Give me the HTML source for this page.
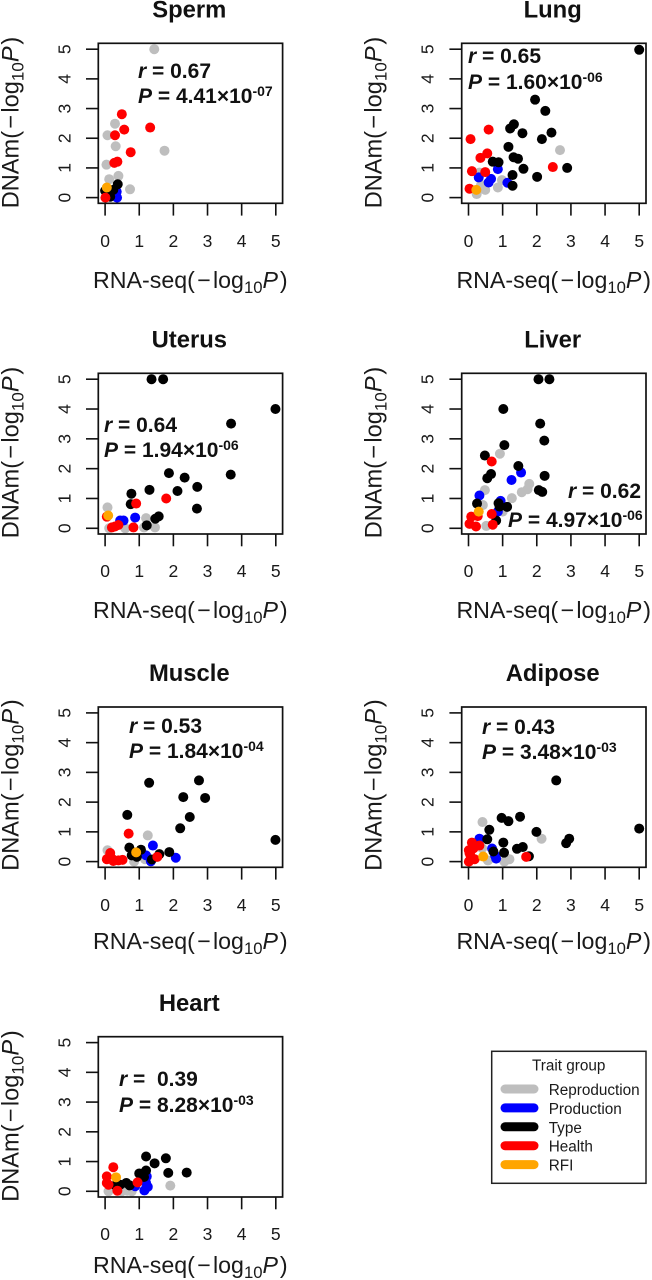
<!DOCTYPE html>
<html>
<head>
<meta charset="utf-8">
<title>DNAm vs RNA-seq scatter panels</title>
<style>
html,body{margin:0;padding:0;background:#fff;}
svg{display:block;font-family:"Liberation Sans",Arial,sans-serif;}
</style>
</head>
<body>
<svg id="figure" xmlns="http://www.w3.org/2000/svg" width="652" height="1280" viewBox="0 0 652 1280"></svg>
<script>
const tickValues = [0, 1, 2, 3, 4, 5];
const groupNames = ["Reproduction", "Production", "Type", "Health", "RFI"];
const groupColors = ["#BEBEBE", "#0000FF", "#000000", "#FF0000", "#FFA500"];

const spermX = [1.44,.29,.07,.31,1.74,.04,.12,.39,.73, .35,.34, .37,.24,0,.15, .49,.56,.29,1.32,.75,.27,.36,.01, .05];
const spermY = [5,2.49,2.1,1.73,1.58,1.11,.62,.73,.28, 0,.2, .45,.26,.23,.03, 2.81,2.29,2.1,2.36,1.53,1.17,1.21,0, .34];
const spermGroup = [0,0,0,0,0,0,0,0,0, 1,1, 2,2,2,2, 3,3,3,3,3,3,3,3, 4];

const lungX = [2.68,.32,.98,.86,.49,.24,.37, .86,.3,.66,.59,1.14, 5,1.95,2.25,1.33,1.22,1.58,2.43,2.15,1.17,1.32,1.45,.71,.88,1.61,2.89,1.29,2.01,1.29, .59,.06,.35,.55,.1,.49,2.47,.03, .23];
const lungY = [1.6,.84,.59,.34,.26,.12,.43, .96,.68,.63,.51,.5, 4.98,3.3,2.92,2.47,2.33,2.17,2.19,1.97,1.71,1.36,1.31,1.21,1.19,.97,1,.76,.7,.4, 2.29,1.97,1.34,1.49,.89,.86,1.03,.3, .26];
const lungGroup = [0,0,0,0,0,0,0, 1,1,1,1,1, 2,2,2,2,2,2,2,2,2,2,2,2,2,2,2,2,2,2, 3,3,3,3,3,3,3,3, 4];

const uterusX = [.07,1.2,1.46,1.14,.59,.12, .54,.44,.88, 1.36,1.7,4.99,3.69,3.68,1.87,2.33,2.7,2.12,1.3,.77,.75,2.69,1.57,1.47,1.22, .91,1.79,.83,.39,.2,.29,.05, .09];
const uterusY = [.7,.34,.03,.03,0,0, .26,.26,.36, 5,5,4,3.51,1.8,1.85,1.7,1.39,1.25,1.29,1.16,.81,.66,.4,.32,.1, .83,1,.03,.11,.03,.06,.39, .43];
const uterusGroup = [0,0,0,0,0,0, 1,1,1, 2,2,2,2,2,2,2,2,2,2,2,2,2,2,2,2, 3,3,3,3,3,3,3, 4];

const liverX = [.92,1.78,1.73,1.56,1.27,.48,.42,1,.52, 1.54,1.26,.32,.94,.86, 2.05,2.37,1.02,2.1,2.22,1.05,.48,1.46,.66,.55,2.23,2.06,2.16,.25,.88,1.13,.91,.81, .68,.68,.71,.27,.08,.03,.22, .3];
const liverY = [2.5,1.49,1.31,1.21,1.01,1.28,.78,.56,.08, 1.87,1.62,1.1,.92,.56, 5,5,4,3.51,2.94,2.79,2.44,2.09,1.82,1.68,1.76,1.28,1.22,.83,.84,.72,.73,.26, 2.24,.48,.12,.41,.39,.15,.06, .56];
const liverGroup = [0,0,0,0,0,0,0,0,0, 1,1,1,1,1, 2,2,2,2,2,2,2,2,2,2,2,2,2,2,2,2,2,2, 3,3,3,3,3,3,3, 4];

const muscleX = [1.25,.07,.85,1.17, 1.4,2.07,1.2,1.34, 4.99,2.75,1.29,2.29,2.93,2.48,2.2,.65,.71,1.88,1.59,1.05,.78,.93,1.37, .69,1.53,.15,.05,.24,.39,.51,.13,.08,.2, .91];
const muscleY = [.88,.38,0,.08, .54,.13,.21,.01, .73,2.73,2.65,2.17,2.14,1.5,1.12,1.57,.47,.32,.25,.4,.21,.16,.07, .94,.16,.29,.08,.02,.04,.06,.16,.1,.1, .31];
const muscleGroup = [0,0,0,0, 1,1,1,1, 2,2,2,2,2,2,2,2,2,2,2,2,2,2,2, 3,3,3,3,3,3,3,3,3,3, 4];

const adiposeX = [.41,2.14,1.2,1.05,.57,.4, .32,.69,.81,.78, 5,2.57,.97,1.17,1.51,.61,1.99,2.95,2.86,1.02,.55,1.59,1.42,1.04,.73,1.77, .1,.32,.01,1.69,.18,.01,.06,.15,.03, .43];
const adiposeY = [1.33,.77,.08,0,.04,.45, .77,.44,.1,.2, 1.11,2.73,1.47,1.36,1.51,1.07,1,.77,.62,.64,.75,.49,.43,.3,.34,.18, .64,.54,.38,.16,.08,0,.2,.45,.28, .17];
const adiposeGroup = [0,0,0,0,0,0, 1,1,1,1, 2,2,2,2,2,2,2,2,2,2,2,2,2,2,2,2, 3,3,3,3,3,3,3,3,3, 4];

const heartX = [1.91,.1,.49,.78,.65, 1.2,.88,1.15,1.22,1.25, 1.2,1.78,1.45,2.39,1.85,1.2,1,1.14,.62,.44,.72,.3, .24,.05,.05,.1,.95,.36, .32];
const heartY = [.19,0,0,0,.02, .28,.17,.03,.5,.15, 1.17,1.11,.94,.63,.62,.7,.6,.48,.28,.22,.2,.2, .81,.5,.28,.22,.3,.02, .47];
const heartGroup = [0,0,0,0,0, 1,1,1,1,1, 2,2,2,2,2,2,2,2,2,2,2,2, 3,3,3,3,3,3, 4];

const panelNames = ["Sperm", "Lung", "Uterus", "Liver", "Muscle", "Adipose", "Heart"];
const panelR = ["r = 0.67", "r = 0.65", "r = 0.64", "r = 0.62", "r = 0.53", "r = 0.43", "r =  0.39"];
const panelP = ["4.41", "1.60", "1.94", "4.97", "1.84", "3.48", "8.28"];
const panelExp = ["-07", "-06", "-06", "-06", "-04", "-03", "-03"];
const panelXs = [spermX, lungX, uterusX, liverX, muscleX, adiposeX, heartX];
const panelYs = [spermY, lungY, uterusY, liverY, muscleY, adiposeY, heartY];
const panelGroups = [spermGroup, lungGroup, uterusGroup, liverGroup, muscleGroup, adiposeGroup, heartGroup];

/* layout */
const layouts = [
  {left:98.3, top:43.3, bottom:203.3, titleY:17.5, tickLabelY:247, xTitleY:288, yMid:122.5, rX:138, rY:78, pX:138, pY:103},
  {left:461.7, top:43.3, bottom:203.3, titleY:17.5, tickLabelY:247, xTitleY:288, yMid:122.5, rX:468, rY:63, pX:468, pY:89},
  {left:98.3, top:373.3, bottom:534, titleY:347.5, tickLabelY:577, xTitleY:618, yMid:452.5, rX:104, rY:432, pX:104, pY:457},
  {left:461.7, top:373.3, bottom:534, titleY:347.5, tickLabelY:577, xTitleY:618, yMid:452.5, rX:568, rY:498, pX:508, pY:527},
  {left:98.3, top:707, bottom:867.3, titleY:681, tickLabelY:911, xTitleY:949, yMid:785, rX:129, rY:733, pX:129, pY:758},
  {left:461.7, top:707, bottom:867.3, titleY:681, tickLabelY:911, xTitleY:949, yMid:785, rX:482, rY:734, pX:482, pY:759},
  {left:98.3, top:1036.7, bottom:1197, titleY:1011, tickLabelY:1240, xTitleY:1273, yMid:1116, rX:119, rY:1086, pX:119, pY:1112}
];
const NS = "http://www.w3.org/2000/svg";
const fig = document.getElementById("figure");
const BOX_W = 184.3, AXIS_MAX = 5;

function el(tag, attrs, parent, text) {
  const e = document.createElementNS(NS, tag);
  for (const k in attrs) e.setAttribute(k, attrs[k]);
  if (text !== undefined) e.textContent = text;
  (parent || fig).appendChild(e);
  return e;
}
function xScale(L, v) { return L.left + 6.8 + (v / AXIS_MAX) * 170.7; }
function yScale(L, v) { return L.bottom - 5.7 - (v / AXIS_MAX) * (L.bottom - L.top - 11.6); }

function axisTitleParts(parent, prefix, size, gap) {
  el("tspan", {}, parent, prefix);
  el("tspan", {dx: gap}, parent, "\u2212");
  el("tspan", {dx: gap}, parent, "log");
  el("tspan", {dy: 5, "font-size": size * 0.72}, parent, "10");
  el("tspan", {dy: -5, "font-style": "italic"}, parent, "P");
  el("tspan", {dx: gap * 0.8}, parent, ")");
}

panelNames.forEach(function (name, i) {
  const L = layouts[i];
  const key = name.toLowerCase();
  const g = el("g", {}, fig);
  
  

  const title = el("text", {x: L.left + 91, y: L.titleY, "text-anchor": "middle", "font-size": 23.8, "font-weight": "bold", fill: "#111"}, g, name);
  
  

  const points = el("g", {}, g);
  
  
  const xs = panelXs[i], ys = panelYs[i], gs = panelGroups[i];
  groupNames.forEach(function (groupName, gi) {
    xs.forEach(function (v, j) {
      if (gs[j] !== gi) return;
      const c = el("circle", {cx: xScale(L, v), cy: yScale(L, ys[j]), r: 5, fill: groupColors[gi]}, points);
      
      
    });
  });

  const box = el("rect", {x: L.left, y: L.top, width: BOX_W, height: L.bottom - L.top, fill: "none", stroke: "#111", "stroke-width": 1.7}, g);
  
  

  tickValues.forEach(function (t) {
    const tx = xScale(L, t), ty = yScale(L, t);
    const xt = el("line", {x1: tx, x2: tx, y1: L.bottom, y2: L.bottom + 12.3, stroke: "#111", "stroke-width": 1.6}, g);
    
    
    const yt = el("line", {x1: L.left - 12.3, x2: L.left, y1: ty, y2: ty, stroke: "#111", "stroke-width": 1.6}, g);
    
    
    const xl = el("text", {x: tx, y: L.tickLabelY, "text-anchor": "middle", "font-size": 17.5, fill: "#1a1a1a"}, g, String(t));
    
    
    const bx = L.left - 28;
    const yl = el("text", {x: bx, y: ty, "text-anchor": "middle", "font-size": 17.5, fill: "#1a1a1a", transform: "rotate(-90 " + bx + " " + ty + ")"}, g, String(t));
    
    
  });

  const xTitle = el("text", {x: L.left + 92, y: L.xTitleY, "text-anchor": "middle", "font-size": 23.2, fill: "#1a1a1a"}, g);
  
  
  axisTitleParts(xTitle, "RNA-seq(", 23.2, 2.3);

  const tx = L.left - 80;
  const yTitle = el("text", {x: tx, y: L.yMid, "text-anchor": "middle", "font-size": 23.6, fill: "#1a1a1a", transform: "rotate(-90 " + tx + " " + L.yMid + ")"}, g);
  
  
  axisTitleParts(yTitle, "DNAm(", 23.6, 2.3);

  const rLab = el("text", {x: L.rX, y: L.rY, "font-size": 21, "font-weight": "bold", fill: "#111"}, g);
  
  
  rLab.style.whiteSpace = "pre";
  el("tspan", {"font-style": "italic"}, rLab, "r");
  el("tspan", {}, rLab, panelR[i].slice(1));

  const pLab = el("text", {x: L.pX, y: L.pY, "font-size": 21, "font-weight": "bold", fill: "#111"}, g);
  
  
  el("tspan", {"font-style": "italic"}, pLab, "P");
  el("tspan", {}, pLab, " = " + panelP[i] + "\u00D710");
  el("tspan", {dy: -7, "font-size": 14}, pLab, panelExp[i]);
});

/* legend */
const legend = el("g", {}, fig);


const legendBox = el("rect", {x: 491.7, y: 1051.3, width: 154.3, height: 132, fill: "#fff", stroke: "#222", "stroke-width": 1.5}, legend);


const legendTitle = el("text", {x: 568.7, y: 1070.7, "text-anchor": "middle", "font-size": 15.3, fill: "#1a1a1a"}, legend, "Trait group");


groupNames.forEach(function (name, i) {
  const ly = 1089 + i * 18.9;
  const sw = el("line", {x1: 505, x2: 534, y1: ly, y2: ly, stroke: groupColors[i], "stroke-width": 9, "stroke-linecap": "round"}, legend);
  
  
  const lt = el("text", {x: 548.7, y: ly + 6, "font-size": 15.3, fill: "#1a1a1a"}, legend, name);
  
  
});
</script>
</body>
</html>
